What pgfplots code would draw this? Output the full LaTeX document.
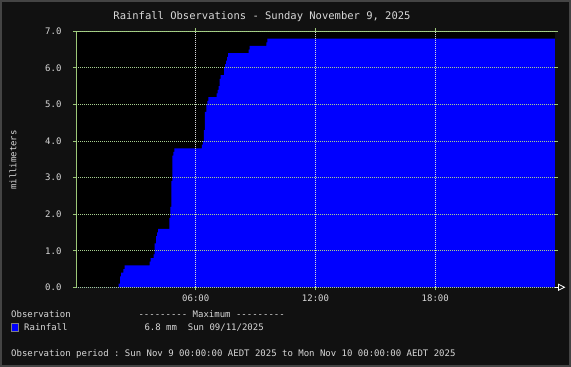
\documentclass[border=0pt]{standalone}
\usepackage{pgfplots}
\pgfplotsset{compat=1.18}
\usepackage{fontspec}
\setmainfont{DejaVu Sans Mono}[Ligatures=TeXOff]
\definecolor{bg}{HTML}{111111}
\definecolor{framec}{HTML}{444444}
\definecolor{txt}{HTML}{D8D8D8}
\definecolor{axgreen}{HTML}{9CC878}
\definecolor{axolive}{HTML}{8C8C40}
\definecolor{ygrid}{HTML}{A8D090}
\definecolor{xgrid}{HTML}{D8D8D8}
\definecolor{rain}{HTML}{0000FF}
\begin{document}
\begin{tikzpicture}[x=1pt,y=1pt]
\fill[framec] (0,0) rectangle (571,367);
\fill[bg] (2,2) rectangle (569,365);
\begin{axis}[
  at={(76pt,79.7pt)}, anchor=south west,
  scale only axis, width=479pt, height=256pt,
  xmin=0, xmax=24, ymin=0, ymax=7,
  axis background/.style={fill=black},
  axis on top,
  axis line style={draw=none},
  xtick={6,12,18}, xticklabels={06:00,12:00,18:00},
  ytick={0,1,2,3,4,5,6,7},
  yticklabels={0.0,1.0,2.0,3.0,4.0,5.0,6.0,7.0},
  tick align=outside, major tick length=3pt,
  tick style={axgreen, line width=0.8pt},
  ticklabel style={font=\fontsize{9}{10}\selectfont, text=txt},
  yticklabel style={xshift=-8pt},
  xticklabel style={yshift=-1pt},
  xmajorgrids, ymajorgrids,
  x grid style={xgrid, line width=0.8pt, dash pattern=on 1pt off 1pt},
  y grid style={ygrid, line width=0.8pt, dash pattern=on 1pt off 1pt},
]
\addplot[const plot, fill=rain, draw=none] coordinates {
(0,0) (2.14,0.1) (2.21,0.3) (2.26,0.4) (2.37,0.5) (2.44,0.6)
(3.69,0.7) (3.74,0.8) (3.89,0.9) (3.94,1.2) (4.01,1.4) (4.06,1.5) (4.11,1.6)
(4.68,1.9) (4.73,2.2) (4.78,2.9) (4.83,3.6) (4.88,3.7) (4.93,3.8)
(6.31,3.9) (6.36,4.0) (6.41,4.3) (6.46,4.8) (6.53,5.0) (6.58,5.1) (6.63,5.2)
(7.05,5.3) (7.10,5.4) (7.15,5.5) (7.20,5.7) (7.25,5.8) (7.42,6.0) (7.47,6.1)
(7.52,6.2) (7.57,6.3) (7.62,6.4) (8.65,6.5) (8.70,6.6) (9.54,6.7) (9.59,6.8)
(24,6.8)
} \closedcycle;
\draw[axgreen, line width=0.8pt] (rel axis cs:0,0) -- (rel axis cs:0,1) -- (rel axis cs:1,1);
\draw[axolive, line width=0.8pt] (rel axis cs:1,1) -- (rel axis cs:1,0);
\end{axis}
\draw[white, line width=0.8pt] (555,79.7) -- (558.5,79.7);
\draw[white, line width=0.8pt] (558.5,76.7) -- (564.5,79.7) -- (558.5,82.7) -- cycle;
\node[anchor=base, inner sep=0, text=txt, font=\fontsize{10.5}{12}\selectfont] at (262,347.7) {Rainfall Observations - Sunday November 9, 2025};
\node[rotate=90, inner sep=0, text=txt, font=\fontsize{9}{10}\selectfont] at (13,207) {millimeters};
\begin{scope}[every node/.style={anchor=base west, inner sep=0, text=txt, font=\fontsize{9}{10}\selectfont}]
\node at (11,49.7) {Observation};
\node at (138.3,49.7) {--------- Maximum ---------};
\node at (24,36.3) {Rainfall};
\node at (144.3,36.3) {6.8~mm~~Sun~09/11/2025};
\node at (11,10.7) {Observation~period~:~Sun~Nov~9~00:00:00~AEDT~2025~to~Mon~Nov~10~00:00:00~AEDT~2025};
\end{scope}
\filldraw[fill=rain, draw=gray, line width=0.8pt] (11.4,35.4) rectangle (18.6,43.9);
\end{tikzpicture}
\end{document}
